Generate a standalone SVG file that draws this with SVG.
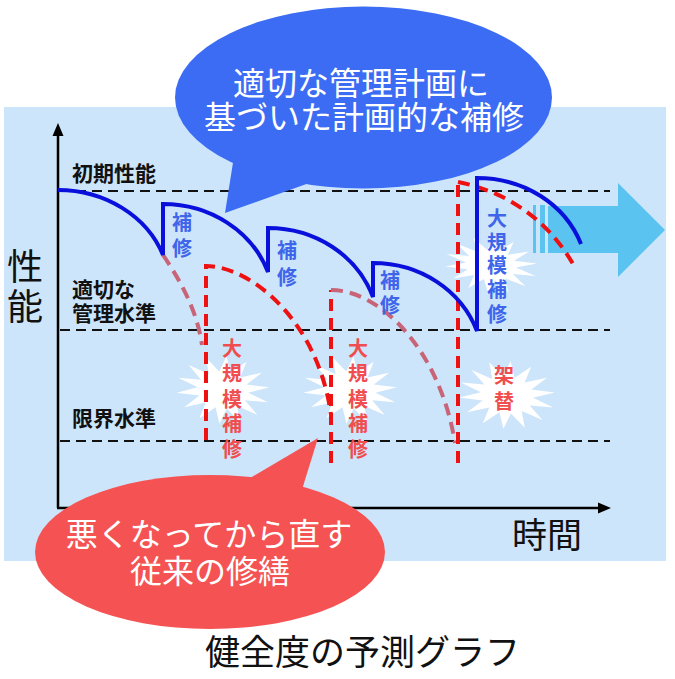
<svg xmlns="http://www.w3.org/2000/svg" xmlns:xlink="http://www.w3.org/1999/xlink" width="675" height="679" viewBox="0 0 675 679">
<style>
  text { font-family: "Noto Sans CJK JP", "Noto Sans", sans-serif; }
  .blk { fill: #111111; font-weight: bold; font-size: 21px; }
  .axisLbl { fill: #111111; font-size: 36px; }
  .title { fill: #111111; font-size: 35px; }
  .bub { fill: #ffffff; font-size: 32px; text-anchor: middle; }
  .bl { fill: #3f66ea; font-weight: bold; font-size: 20px; text-anchor: middle; }
  .rl { fill: #f04e4e; font-weight: bold; font-size: 20px; text-anchor: middle; }
  .lvl { fill: none; stroke: #111111; stroke-width: 2; stroke-dasharray: 10 6; }
  .blue { fill: none; stroke: #0a10dc; stroke-width: 4; stroke-linejoin: miter; }
  .red { fill: none; stroke: #ee1111; stroke-width: 4; stroke-dasharray: 12 7; }
  .pink { fill: none; stroke: #c86478; stroke-width: 4; stroke-dasharray: 12 7; }
  .axis { fill: none; stroke: #000000; stroke-width: 2.5; }
  .star { fill: #ffffff; }
  .arrowFill { fill: #5bc3f0; }
</style>
<defs>
  <polygon id="burst" points="0,-50 6,-26.3 21.7,-45 16.8,-21.1 39.1,-31.2 24.3,-11.7 48.7,-11.1 27,0 48.7,11.1 24.3,11.7 39.1,31.2 16.8,21.1 21.7,45 6,26.3 0,50 -6,26.3 -21.7,45 -16.8,21.1 -39.1,31.2 -24.3,11.7 -48.7,11.1 -27,0 -48.7,-11.1 -24.3,-11.7 -39.1,-31.2 -16.8,-21.1 -21.7,-45 -6,-26.3"/>
</defs>

<rect id="panel" x="4" y="107" width="662" height="454" fill="#cde5fa"/>

<g id="bigArrow" class="arrowFill">
  <rect x="533" y="205" width="3" height="48"/>
  <rect x="540" y="205" width="5" height="48"/>
  <polygon points="548,206 618,206 618,183 665,230 618,277 618,253 548,253"/>
</g>

<g id="bursts" class="star">
  <use xlink:href="#burst" transform="translate(223,390) rotate(6) scale(0.94,0.68)"/>
  <use xlink:href="#burst" transform="translate(350,390) rotate(6) scale(0.95,0.68)"/>
  <use xlink:href="#burst" transform="translate(507,395) rotate(6) scale(0.97,0.68)"/>
  <use xlink:href="#burst" transform="translate(491,265) rotate(6) scale(0.93,0.56)"/>
</g>

<g id="connectors">
  <g id="levels">
    <line class="lvl" x1="60" y1="191" x2="610" y2="191"/>
    <line class="lvl" x1="60" y1="330" x2="610" y2="330"/>
    <line class="lvl" x1="60" y1="441" x2="610" y2="441"/>
  </g>
  <g id="axes">
    <line class="axis" x1="58" y1="508" x2="58" y2="134"/>
    <polygon points="58,123 52.5,136 63.5,136" fill="#000"/>
    <line class="axis" x1="57" y1="508" x2="600" y2="508"/>
    <polygon points="611,508 598,502.5 598,513.5" fill="#000"/>
  </g>
  <g id="traditional">
    <path class="pink" d="M163,255 C180,280 197,310 202,345"/>
    <path class="red" d="M206,440 L206,266 C250,266 318,320 331,415"/>
    <path class="red" d="M331,463 L331,290"/>
    <path class="pink" d="M331,290 C380,290 440,350 455,443"/>
    <path class="red" d="M458,463 L458,182"/>
    <path class="red" d="M458,182 C500,190 545,215 573,264"/>
  </g>
  <path id="planned" class="blue" d="M58,190 C105,190 147,216 163,255 L163,204 C210,204 252,231 268,272 L268,228 C315,228 357,255 373,297 L373,263 C420,263 461,290 477,331 L477,178 C524,178 565,204 581,244"/>
</g>

<g id="axisLabels">
  <text class="axisLbl" x="7" y="280">性<tspan x="7" y="320">能</tspan></text>
  <text class="axisLbl" x="512" y="548" style="font-size:35px">時間</text>
</g>

<g id="levelLabels">
  <text class="blk" x="72" y="181">初期性能</text>
  <text class="blk" x="72" y="297">適切な<tspan x="72" y="321">管理水準</tspan></text>
  <text class="blk" x="72" y="426">限界水準</text>
</g>

<g id="repair1" class="bl"><text x="182" y="230">補<tspan x="182" y="256">修</tspan></text></g>
<g id="repair2" class="bl"><text x="287" y="258">補<tspan x="287" y="285">修</tspan></text></g>
<g id="repair3" class="bl"><text x="390" y="288">補<tspan x="390" y="313">修</tspan></text></g>
<g id="majorBlue" class="bl">
  <text x="497" y="226">大<tspan x="497" y="250">規</tspan><tspan x="497" y="273">模</tspan><tspan x="497" y="297">補</tspan><tspan x="497" y="322">修</tspan></text>
</g>
<g id="majorRed1" class="rl">
  <text x="232" y="356">大<tspan x="232" y="381">規</tspan><tspan x="232" y="407">模</tspan><tspan x="232" y="431">補</tspan><tspan x="232" y="457">修</tspan></text>
</g>
<g id="majorRed2" class="rl">
  <text x="358" y="356">大<tspan x="358" y="381">規</tspan><tspan x="358" y="407">模</tspan><tspan x="358" y="431">補</tspan><tspan x="358" y="457">修</tspan></text>
</g>
<g id="replace" class="rl"><text x="504" y="383">架<tspan x="504" y="409">替</tspan></text></g>

<g id="bubbleBlue">
  <polygon points="235,150 225,213 312,182" fill="#3b6cf3"/>
  <ellipse cx="363.5" cy="97.5" rx="188.5" ry="91" fill="#3b6cf3"/>
  <text class="bub" x="361" y="95">適切な管理計画に<tspan x="364" y="129">基づいた計画的な補修</tspan></text>
</g>

<g id="bubbleRed">
  <polygon points="240,484 318,438 300,496" fill="#f55353"/>
  <ellipse cx="210" cy="552" rx="175" ry="77" fill="#f55353"/>
  <text class="bub" x="209" y="546">悪くなってから直す<tspan x="210" y="583">従来の修繕</tspan></text>
</g>

<text id="title" class="title" x="205" y="665">健全度の予測グラフ</text>
</svg>
